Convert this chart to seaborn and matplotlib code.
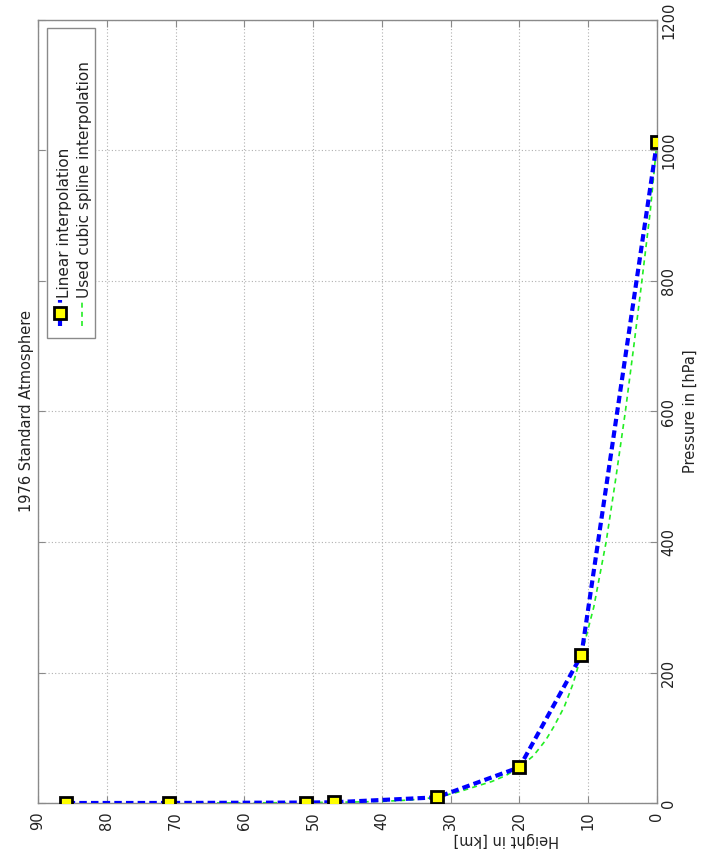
import numpy as np
import pandas as pd
import matplotlib
matplotlib.use("Agg")
import matplotlib.pyplot as plt
from matplotlib.lines import Line2D
from matplotlib.patches import Rectangle
import seaborn as sns

# ---- data (1976 Standard Atmosphere, layer boundaries) ----
height_km = [0, 11, 20, 32, 47, 51, 71, 86]
pressure_hpa = [1013.25, 226.32, 54.75, 8.68, 1.11, 0.67, 0.04, 0.0037]

# cubic-spline curve
spline_height_km = [0, 1, 2.2, 3.4, 4.6, 6, 7.4, 9.2, 11, 12.2, 13.5, 15, 16.2, 18, 20,
                    22, 24, 26.3, 29, 32, 36, 40, 44, 47, 51, 56, 61, 66]
spline_pressure_hpa = [1013.25, 905, 800, 698, 600, 497, 400, 300, 226.32, 183, 147, 117, 96, 72, 54.75,
                       42, 33, 25.5, 16.5, 8.68, 4.5, 2.4, 1.5, 1.11, 0.67, 0.35, 0.2, 0.1]

x_ticks = [0, 10, 20, 30, 40, 50, 60, 70, 80, 90]
y_ticks = [0, 200, 400, 600, 800, 1000, 1200]

title_text = "1976 Standard Atmosphere"
xlabel_text = "Height in [km]"
ylabel_text = "Pressure in [hPa]"
legend_labels = ["Linear interpolation", "Used cubic spline interpolation"]

sns.set_style("white")
plt.rcParams["font.family"] = ["DejaVu Sans"]

W, H = 703, 867
fig = plt.figure(figsize=(W / 100, H / 100), dpi=100)

def fx(x):
    return x / W

def fy(y):
    return 1 - y / H

L, R, T, B = 38, 657, 20, 803
ax = fig.add_axes([fx(L), fy(B), fx(R) - fx(L), fy(T) - fy(B)])

lin = pd.DataFrame({"h": height_km, "p": pressure_hpa})
spl = pd.DataFrame({"h": spline_height_km, "p": spline_pressure_hpa})

sns.lineplot(data=lin, x="h", y="p", ax=ax, color="#0000ff", lw=3.0,
             marker="s", markersize=9, markerfacecolor="#ffff00",
             markeredgecolor="black", markeredgewidth=2.0,
             sort=False, estimator=None, zorder=3)
ax.lines[-1].set_dashes((1.8, 1.0))
sns.lineplot(data=spl, x="h", y="p", ax=ax, color="#22ee22", lw=1.2,
             sort=False, estimator=None, zorder=2)
ax.lines[-1].set_dashes((3, 2.5))
ax.lines[0].set_zorder(4)

ax.set_xlim(90, 0)
ax.set_ylim(0, 1200)
ax.set_xticks(x_ticks)
ax.set_yticks(y_ticks)
ax.yaxis.tick_right()
ax.yaxis.set_label_position("right")

ax.grid(True, color="#b0b0b0", linestyle=(0, (1, 2)), linewidth=0.8)
for s in ax.spines.values():
    s.set_color("#8a8a8a")
    s.set_linewidth(1.0)
ax.tick_params(axis="both", which="both", direction="in", length=5,
               color="#8a8a8a", top=True, bottom=True, left=True, right=True,
               labelsize=10.5, labelcolor="#222222")
ax.tick_params(axis="x", pad=6)
ax.tick_params(axis="y", pad=3)
for lab in ax.get_xticklabels():
    lab.set_rotation(90)
    lab.set_va("top")
    lab.set_ha("center")
for lab in ax.get_yticklabels():
    lab.set_rotation(90)
    lab.set_va("center")
    lab.set_ha("left")

ax.set_xlabel("")
ax.set_ylabel("")
fig.text(fx(506), fy(840), xlabel_text, rotation=180, ha="center", va="center",
         fontsize=10.5, color="#222222")
fig.text(fx(690), fy(411), ylabel_text, rotation=90, ha="center", va="center",
         fontsize=10.5, color="#222222")
fig.text(fx(27), fy(411), title_text, rotation=90, ha="center", va="center",
         fontsize=10.5, color="#222222")

# ---- manual rotated legend ----
fig.patches.append(Rectangle((fx(47), fy(338)), fx(95) - fx(47), fy(28) - fy(338),
                             transform=fig.transFigure, facecolor="white",
                             edgecolor="#8a8a8a", lw=1.0, zorder=5))
l1 = Line2D([fx(60), fx(60)], [fy(326), fy(300)], transform=fig.transFigure,
            color="#0000ff", lw=3.0, dashes=(1.8, 1.0), zorder=6)
m1 = Line2D([fx(60)], [fy(313)], transform=fig.transFigure, marker="s",
            markersize=9, markerfacecolor="#ffff00", markeredgecolor="black",
            markeredgewidth=2.0, linestyle="none", zorder=7)
l2 = Line2D([fx(82), fx(82)], [fy(326), fy(300)], transform=fig.transFigure,
            color="#22ee22", lw=1.2, dashes=(3, 2.5), zorder=6)
for a in (l1, m1, l2):
    fig.lines.append(a)
fig.text(fx(64), fy(298), legend_labels[0], rotation=90, ha="center", va="bottom",
         fontsize=11, color="#222222", zorder=8)
fig.text(fx(84), fy(298), legend_labels[1], rotation=90, ha="center", va="bottom",
         fontsize=11, color="#222222", zorder=8)

fig.savefig("out.png", dpi=100)
